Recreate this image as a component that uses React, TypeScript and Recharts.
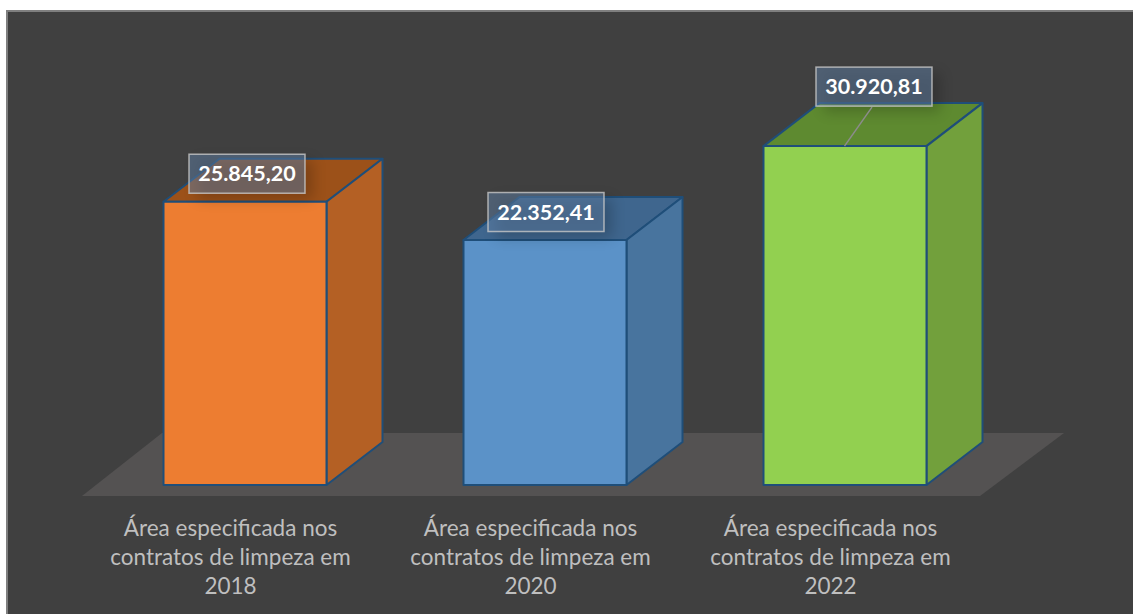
import { Bar, BarChart, LabelList, ReferenceArea, XAxis, YAxis } from 'recharts'

const categories = [
  'Área especificada nos\ncontratos de limpeza em\n2018',
  'Área especificada nos\ncontratos de limpeza em\n2020',
  'Área especificada nos\ncontratos de limpeza em\n2022',
]
const areas = [25845.2, 22352.41, 30920.81]
const valueLabels = ['25.845,20', '22.352,41', '30.920,81']

const frontColors = ['#ED7D31', '#5B92C8', '#92D050']
const sideColors = ['#B46024', '#48749E', '#72A03C']
const topColors = ['#9C5119', '#3F668E', '#5E8A30']

// where each value box sits relative to the top-left corner of its bar
const labelOffsets = [
  { dx: 25.5, dy: -47.5, leader: false },
  { dx: 24.5, dy: -47.5, leader: false },
  { dx: 52.5, dy: -79, leader: true },
]

const data = categories.map((name, i) => ({ name, area: areas[i], index: i }))

const DEPTH_X = 56
const DEPTH_Y = 43
const EDGE = '#1F4E79'

function Box3D(props: any) {
  const { x, y, width, height, index } = props
  const right = x + width
  const bottom = y + height
  return (
    <g stroke={EDGE} strokeWidth={2} strokeLinejoin="round">
      <path
        fill={topColors[index]}
        d={`M${x},${y} L${x + DEPTH_X},${y - DEPTH_Y} L${right + DEPTH_X},${y - DEPTH_Y} L${right},${y} Z`}
      />
      <path
        fill={sideColors[index]}
        d={`M${right},${y} L${right + DEPTH_X},${y - DEPTH_Y} L${right + DEPTH_X},${bottom - DEPTH_Y} L${right},${bottom} Z`}
      />
      <rect x={x} y={y} width={width} height={height} fill={frontColors[index]} />
    </g>
  )
}

function Floor(props: any) {
  const { x, y, width, height } = props
  const bottom = y + height
  const left = x - 12.5
  const right = x + width - 14.5
  return (
    <path
      fill="#545252"
      d={`M${left},${bottom + 11} L${right},${bottom + 11} L${right + 84},${bottom - 52} L${left + 80},${bottom - 52} Z`}
    />
  )
}

function ValueLabel(props: any) {
  const { x, y, index } = props
  const { dx, dy, leader } = labelOffsets[index]
  const bx = x + dx
  const by = y + dy
  return (
    <g>
      <rect
        x={bx + 8}
        y={by + 6}
        width={116}
        height={39}
        fill="#000"
        opacity={0.2}
        style={{ filter: 'blur(7px)' }}
      />
      {leader && <line x1={bx + 56} y1={by + 40} x2={x + 81} y2={y} stroke="#8C8C8C" strokeWidth={1.5} />}
      <rect
        x={bx}
        y={by}
        width={116}
        height={39}
        fill="#5F7FA6"
        fillOpacity={0.5}
        stroke="#C8C8C8"
        strokeOpacity={0.8}
        strokeWidth={1.5}
      />
      <text
        x={bx + 58}
        y={by + 27}
        textAnchor="middle"
        fill="#fff"
        fontFamily="Lato"
        fontWeight={700}
        fontSize={21.5}
      >
        {valueLabels[index]}
      </text>
    </g>
  )
}

function CategoryTick(props: any) {
  const { x, y, payload } = props
  const lines = String(payload.value).split('\n')
  return (
    <text x={x - 14} y={y} textAnchor="middle" fill="#BFBFBF" fontFamily="Lato" fontSize={22.5}>
      {lines.map((line, i) => (
        <tspan key={i} x={x - 14} y={y + 43 + i * 29}>
          {line}
        </tspan>
      ))}
    </text>
  )
}

export default function App() {
  return (
    <div style={{ position: 'absolute', left: 0, top: 0, width: 1133, height: 614, background: '#fff', overflow: 'hidden' }}>
      <div
        style={{
          position: 'absolute',
          left: 6,
          top: 10,
          width: 1140,
          height: 620,
          boxSizing: 'border-box',
          background: '#404040',
          border: '2px solid #7F7F7F',
        }}
      />
      <div style={{ position: 'absolute', left: 0, top: 0 }}>
        <BarChart
          width={1133}
          height={614}
          data={data}
          barSize={163}
          margin={{ top: 101.4, right: 138.5, bottom: 0, left: 94.5 }}
        >
          <XAxis dataKey="name" height={129} axisLine={false} tickLine={false} interval={0} tick={<CategoryTick />} />
          <YAxis hide domain={[0, 35000]} />
          <ReferenceArea y1={0} y2={35000} shape={<Floor />} />
          <Bar dataKey="area" shape={<Box3D />} isAnimationActive={false}>
            <LabelList dataKey="area" content={<ValueLabel />} />
          </Bar>
        </BarChart>
      </div>
    </div>
  )
}
